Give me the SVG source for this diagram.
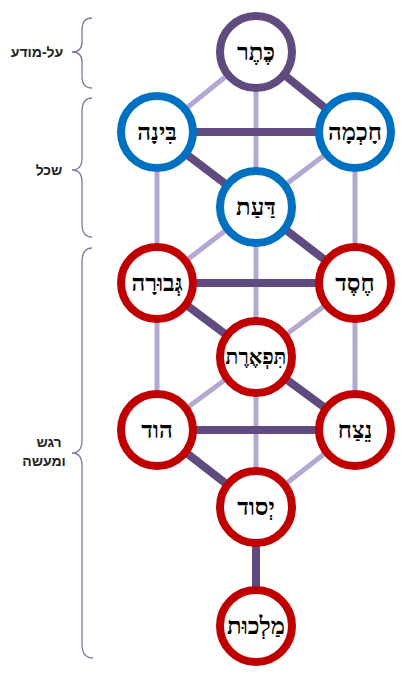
<svg xmlns="http://www.w3.org/2000/svg" width="410" height="678" viewBox="0 0 410 678">
<style>
.thin{stroke:#b4a7d2;stroke-width:5;fill:none}
.thick{stroke:#5f4b7f;stroke-width:8;fill:none}
.node{fill:#fff;stroke-width:8}
.k{stroke:#5f4b7f}
.b{stroke:#0070c0}
.r{stroke:#c00000}
.lbl{font-family:"Liberation Serif","DejaVu Serif",serif;font-weight:bold;font-size:24px;fill:#000;text-anchor:middle}
.side{font-family:"Liberation Sans","DejaVu Sans",sans-serif;font-weight:bold;font-size:14px;fill:#222;text-anchor:middle}
.brace{stroke:#8474a6;stroke-width:1.3;fill:none}
</style>
<rect width="410" height="678" fill="#fff"/>
<g id="connectors">
<line class="thin" x1="256" y1="52" x2="157" y2="132"/>
<line class="thin" x1="256" y1="52" x2="256" y2="207"/>
<line class="thin" x1="355" y1="132" x2="256" y2="207"/>
<line class="thin" x1="157" y1="132" x2="157" y2="283"/>
<line class="thin" x1="355" y1="132" x2="355" y2="283"/>
<line class="thin" x1="256" y1="207" x2="157" y2="283"/>
<line class="thin" x1="256" y1="207" x2="256" y2="357"/>
<line class="thin" x1="355" y1="283" x2="256" y2="357"/>
<line class="thin" x1="157" y1="283" x2="157" y2="430"/>
<line class="thin" x1="355" y1="283" x2="355" y2="430"/>
<line class="thin" x1="256" y1="357" x2="157" y2="430"/>
<line class="thin" x1="256" y1="357" x2="256" y2="507"/>
<line class="thin" x1="355" y1="430" x2="256" y2="507"/>
<line class="thick" x1="256" y1="52" x2="355" y2="132"/>
<line class="thick" x1="157" y1="132" x2="355" y2="132"/>
<line class="thick" x1="157" y1="132" x2="256" y2="207"/>
<line class="thick" x1="256" y1="207" x2="355" y2="283"/>
<line class="thick" x1="157" y1="283" x2="355" y2="283"/>
<line class="thick" x1="157" y1="283" x2="256" y2="357"/>
<line class="thick" x1="256" y1="357" x2="355" y2="430"/>
<line class="thick" x1="157" y1="430" x2="355" y2="430"/>
<line class="thick" x1="157" y1="430" x2="256" y2="507"/>
<line class="thick" x1="256" y1="507" x2="256" y2="626"/>
</g>
<g id="keter"><circle class="node k" cx="256" cy="52" r="36"/><text class="lbl" x="256" y="60">כֶּתֶר</text></g>
<g id="chochmah"><circle class="node b" cx="355" cy="132" r="36"/><text class="lbl" x="355" y="140">חָכְמָה</text></g>
<g id="binah"><circle class="node b" cx="157" cy="132" r="36"/><text class="lbl" x="157" y="140">בִּינָה</text></g>
<g id="daat"><circle class="node b" cx="256" cy="207" r="36"/><text class="lbl" x="256" y="215">דַּעַת</text></g>
<g id="chesed"><circle class="node r" cx="355" cy="283" r="36"/><text class="lbl" x="355" y="291">חֶסֶד</text></g>
<g id="gevurah"><circle class="node r" cx="157" cy="283" r="36"/><text class="lbl" x="157" y="291">גְּבוּרָה</text></g>
<g id="tiferet"><circle class="node r" cx="256" cy="357" r="36"/><text class="lbl" x="256" y="364" style="font-size:21px">תִּפְאֶרֶת</text></g>
<g id="netzach"><circle class="node r" cx="355" cy="430" r="36"/><text class="lbl" x="355" y="438">נֵצַח</text></g>
<g id="hod"><circle class="node r" cx="157" cy="430" r="36"/><text class="lbl" x="157" y="438">הוד</text></g>
<g id="yesod"><circle class="node r" cx="256" cy="507" r="36"/><text class="lbl" x="256" y="515">יְסוד</text></g>
<g id="malchut"><circle class="node r" cx="256" cy="626" r="36"/><text class="lbl" x="256" y="634">מַלְכוּת</text></g>
<g id="braces">
<path class="brace" d="M92,18 Q82,18 82,30 L82,42 Q82,52 72,52 Q82,52 82,62 L82,76 Q82,88 92,88"/>
<path class="brace" d="M92,98 Q82,98 82,112 L82,158 Q82,170 72,170 Q82,170 82,182 L82,224 Q82,237 92,237"/>
<path class="brace" d="M92,248 Q82,248 82,262 L82,440 Q82,453 72,453 Q82,453 82,466 L82,644 Q82,658 93,658"/>
</g>
<g id="side-labels">
<text class="side" x="37" y="57">על-מודע</text>
<text class="side" x="49" y="175">שכל</text>
<text class="side" x="49" y="447">רגש</text>
<text class="side" x="44" y="466">ומעשה</text>
</g>
</svg>
